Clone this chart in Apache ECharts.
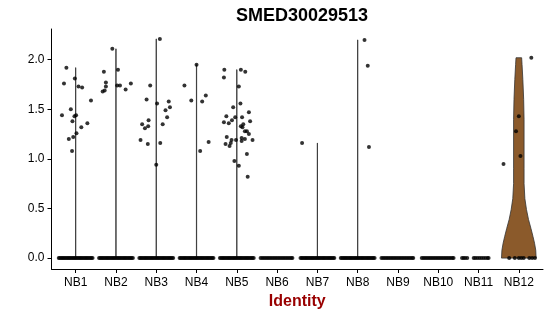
<!DOCTYPE html>
<html>
<head>
<meta charset="utf-8">
<script src="https://cdn.jsdelivr.net/npm/echarts@6/dist/echarts.min.js"></script>
<style>
html,body{margin:0;padding:0;background:#fff;}
#chart{width:550px;height:316px;}
</style>
</head>
<body>
<div id="chart"></div>
<script>
// ---------------- data ----------------
const chartTitle = 'SMED30029513';
const xTitle = 'Identity';
const categories = ['NB1','NB2','NB3','NB4','NB5','NB6','NB7','NB8','NB9','NB10','NB11','NB12'];
const yTicks = [0, 0.5, 1, 1.5, 2];

// non-zero cells: [jitter offset, expression]
const nb1Points = [[-0.34,1.44],[-0.29,1.76],[-0.23,1.92],[-0.12,1.50],[-0.17,1.20],[-0.08,1.38],[-0.09,1.08],[-0.06,1.22],[-0.03,1.43],[-0.02,1.81],[0.01,1.44],[0.02,1.26],[0.07,1.73],[0.16,1.72],[0.14,1.32],[0.29,1.36],[0.38,1.59]];
const nb2Points = [[-0.09,2.11],[-0.30,1.88],[-0.25,1.77],[-0.25,1.73],[-0.33,1.68],[-0.28,1.69],[0.05,1.90],[0.03,1.74],[0.10,1.74],[0.24,1.70],[0.37,1.76]];
const nb3Points = [[0.09,2.21],[-0.39,1.19],[-0.35,1.35],[-0.28,1.31],[-0.20,1.33],[-0.19,1.39],[-0.24,1.60],[-0.21,1.15],[-0.15,1.74],[0.00,0.94],[0.02,1.56],[0.10,1.16],[0.16,1.35],[0.23,1.49],[0.27,1.42],[0.31,1.58],[0.34,1.52]];
const nb4Points = [[0.00,1.95],[-0.30,1.74],[-0.13,1.59],[0.14,1.58],[0.23,1.64],[0.09,1.08],[0.30,1.17]];
const nb5Points = [[-0.31,1.90],[-0.32,1.82],[0.10,1.90],[0.21,1.88],[0.05,1.73],[0.09,1.56],[-0.09,1.52],[-0.26,1.43],[-0.32,1.37],[-0.20,1.36],[-0.12,1.39],[-0.04,1.42],[0.13,1.42],[0.30,1.47],[0.33,1.38],[0.16,1.35],[0.10,1.33],[0.14,1.32],[0.20,1.28],[0.25,1.28],[0.30,1.25],[-0.25,1.22],[-0.13,1.19],[-0.15,1.16],[-0.28,1.15],[-0.18,1.13],[-0.02,1.19],[0.12,1.21],[0.20,1.20],[0.39,1.19],[0.12,1.18],[0.25,1.05],[-0.06,0.98],[0.05,0.93],[0.27,0.82]];
const nb6Points = [];
const nb7Points = [[-0.38,1.16]];
const nb8Points = [[0.17,2.20],[0.25,1.94],[0.28,1.12]];
const nb9Points = [];
const nb10Points = [];
const nb11Points = [];
const nb12Points = [[0.31,2.02],[0.00,1.43],[-0.07,1.28],[0.04,1.03],[-0.38,0.95]];

// jitter offsets of the zero-expression cells
const zeroDense = [-0.42,-0.39,-0.36,-0.33,-0.30,-0.27,-0.24,-0.21,-0.18,-0.15,-0.12,-0.09,-0.06,-0.03,0,0.03,0.06,0.09,0.12,0.15,0.18,0.21,0.24,0.27,0.30,0.33,0.36,0.39,0.42];
const zeroMedium = [-0.41,-0.37,-0.33,-0.29,-0.25,-0.21,-0.17,-0.13,-0.09,-0.05,-0.01,0.03,0.07,0.11,0.15,0.19,0.23,0.27,0.31,0.35,0.38];
const zeroNB11 = [-0.41,-0.37,-0.33,-0.28,-0.12,-0.08,-0.03,0.02,0.07,0.12,0.17,0.22,0.25];
const zeroNB12 = [-0.24,-0.10,0.00,0.06,0.12,0.26,0.33,0.40];

// violin extents: top value of each group's (near-degenerate) violin; 0 = flat
const violinTop = [1.92, 2.11, 2.21, 1.95, 1.90, 0, 1.16, 2.20, 0, 0, 0, 2.02];
// NB12 violin profile: [expression, half width]
const nb12Profile = [[0,0.43],[0.08,0.42],[0.15,0.39],[0.22,0.35],[0.30,0.30],[0.39,0.24],[0.49,0.19],[0.60,0.15],[0.75,0.13],[0.90,0.13],[1.10,0.13],[1.40,0.13],[1.60,0.12],[1.80,0.10],[1.95,0.08],[2.02,0.07]];
const violinFill = '#8B5A2B';

// --------------- build ----------------
const groupPoints = [nb1Points,nb2Points,nb3Points,nb4Points,nb5Points,nb6Points,nb7Points,nb8Points,nb9Points,nb10Points,nb11Points,nb12Points];
const groupZeros = [zeroDense,zeroDense,zeroDense,zeroDense,zeroDense,zeroMedium,zeroDense,zeroDense,zeroMedium,zeroMedium,zeroNB11,zeroNB12];

const scatterData = [];
groupZeros.forEach((offs, g) => offs.forEach(o => scatterData.push([g + 1 + o, 0])));
groupPoints.forEach((pts, g) => pts.forEach(p => scatterData.push([g + 1 + p[0], p[1]])));

function profileFor(g) {
  if (g === 11) return nb12Profile;
  const top = violinTop[g];
  return [[0,0.003],[top,0.003]];
}

const violinData = [];
violinTop.forEach((t, g) => { if (t > 0) violinData.push([g]); });

const chart = echarts.init(document.getElementById('chart'), null, {renderer: 'canvas'});
chart.setOption({
  animation: false,
  backgroundColor: '#fff',
  title: {
    text: chartTitle,
    left: 297, top: 2, textAlign: 'center',
    textStyle: {fontFamily: 'Liberation Sans', fontWeight: 'bold', fontSize: 18, color: '#000'}
  },
  grid: {left: 51.5, right: 7, top: 29, bottom: 47, containLabel: false},
  xAxis: {
    type: 'value', min: 0.4, max: 12.6,
    name: xTitle, nameLocation: 'middle', nameGap: 22,
    nameTextStyle: {fontFamily: 'Liberation Sans', fontWeight: 'bold', fontSize: 16, color: '#990000'},
    axisLine: {show: true, onZero: false, lineStyle: {color: '#000', width: 1}},
    axisTick: {show: true, length: 4, lineStyle: {color: '#000'}, customValues: categories.map((c, i) => i + 1)},
    axisLabel: {
      customValues: categories.map((c, i) => i + 1),
      formatter: v => categories[Math.round(v) - 1],
      fontFamily: 'Liberation Sans', fontSize: 12, color: '#000', margin: 8
    },
    splitLine: {show: false}
  },
  yAxis: {
    type: 'value', min: -0.11, max: 2.31,
    axisLine: {show: true, onZero: false, lineStyle: {color: '#000', width: 1}},
    axisTick: {show: true, length: 4, lineStyle: {color: '#000'}, customValues: yTicks},
    axisLabel: {
      customValues: yTicks,
      formatter: v => v.toFixed(1),
      fontFamily: 'Liberation Sans', fontSize: 12, color: '#000', margin: 7
    },
    splitLine: {show: false}
  },
  series: [
    {
      type: 'custom',
      data: violinData,
      renderItem: function (params, api) {
        const g = api.value(0);
        const prof = profileFor(g);
        const c = g + 1;
        const pts = [];
        prof.forEach(p => pts.push(api.coord([c + p[1], p[0]])));
        for (let i = prof.length - 1; i >= 0; i--) pts.push(api.coord([c - prof[i][1], prof[i][0]]));
        return {
          type: 'polygon',
          shape: {points: pts},
          style: {fill: g === 11 ? violinFill : '#333', stroke: '#333', lineWidth: 0.8}
        };
      },
      z: 1
    },
    {
      type: 'scatter',
      data: scatterData,
      symbol: 'circle',
      symbolSize: 4,
      itemStyle: {color: '#000'},
      z: 2
    }
  ]
});
</script>
</body>
</html>
